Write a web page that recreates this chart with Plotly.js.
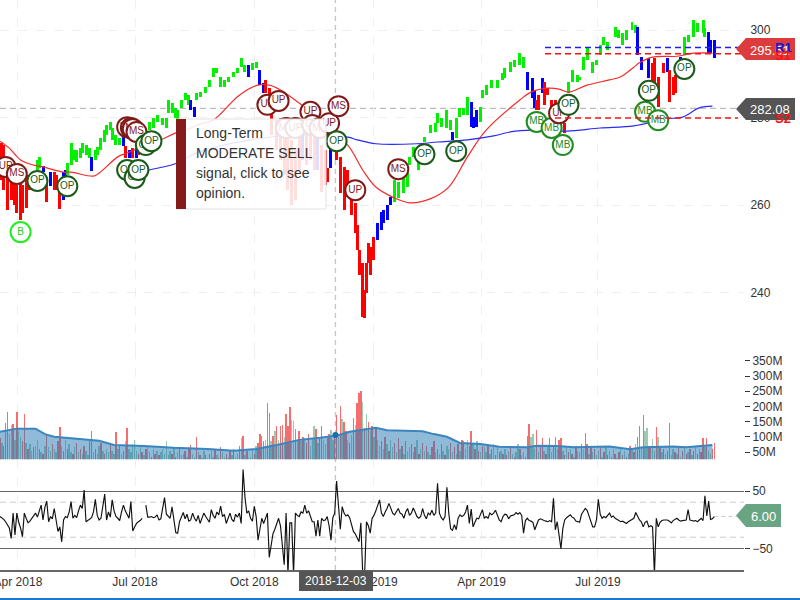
<!DOCTYPE html>
<html>
<head>
<meta charset="utf-8">
<script src="https://cdn.plot.ly/plotly-3.0.1.min.js"></script>
<style>html,body{margin:0;padding:0;background:#fff}#chart{width:800px;height:600px}</style>
</head>
<body>
<div id="chart"></div>
<script>
// x axis = trading-session number
var tickDays = [9.6, 72.2, 136, 199.5, 257.6, 319.8];
var tickLabels = ['Apr 2018', 'Jul 2018', 'Oct 2018', 'Jan 2019', 'Apr 2019', 'Jul 2019'];

var barDay = [1,2,4,6,8,9,11,12,14,16,18,20,21,23,25,27,29,30,32,34,35,36,38,40,41,43,44,46,48,49,51,52,54,56,57,59,60,62,64,66,67,69,71,73,74,76,78,80,82,84,87,89,90,92,94,95,97,99,101,102,104,105,107,110,112,114,116,118,120,122,125,127,129,131,133,135,137,139,141,142,144,145,148,150,152,154,156,158,160,162,164,166,168,170,172,174,175,177,180,182,184,186,188,190,191,192,194,195,196,197,198,200,202,204,205,207,209,211,213,216,218,219,221,224,225,227,230,233,234,236,239,241,242,244,246,248,250,252,253,255,257,258,260,263,266,269,270,273,275,278,280,282,285,286,287,288,290,291,293,295,297,299,302,303,304,306,309,310,312,314,317,319,321,323,325,329,331,333,335,338,340,341,343,347,349,350,352,355,357,358,360,361,364,366,368,371,373,376,377,379,380,382];
var barHigh = [274.2,273.7,269.1,266.9,265.7,264.6,265.7,264.6,266.9,265.7,266.9,270.3,271.0,268.9,266.2,267.5,267.5,266.9,264.6,267.5,268.0,269.6,274.2,272.6,272.6,273.0,274.2,273.7,273.0,271.0,272.6,273.3,275.3,277.1,278.3,279.0,277.6,276.0,275.3,276.0,273.5,272.6,273.0,273.0,273.7,274.9,277.1,279.0,279.9,280.6,279.9,279.9,284.0,283.3,282.2,281.7,284.0,285.6,285.1,284.0,282.4,285.6,285.8,287.0,288.6,291.3,291.3,289.3,288.6,289.3,290.4,291.3,293.6,292.0,292.0,292.5,292.7,290.9,287.9,288.6,286.7,282.9,279.4,279.9,278.3,277.1,274.9,272.6,277.1,277.6,277.1,278.3,279.4,277.1,273.7,272.6,268.4,274.2,274.9,271.0,268.7,268.0,262.3,260.5,255.4,249.7,246.7,240.6,246.7,251.3,250.4,252.7,255.9,258.4,258.9,260.0,261.8,265.7,265.3,266.2,268.7,271.0,273.3,270.3,273.7,275.5,278.3,278.7,281.0,279.9,281.7,279.4,276.7,279.9,282.2,282.2,284.7,283.5,280.1,281.7,282.4,286.3,287.4,288.6,288.6,290.2,291.3,292.7,293.1,294.7,293.8,290.4,289.0,286.3,284.0,285.1,289.0,288.1,286.7,284.0,284.0,280.1,278.7,284.0,288.1,290.9,289.7,289.3,293.8,295.9,292.7,293.1,296.6,298.4,297.3,300.7,300.0,299.3,300.0,301.8,301.1,300.7,293.8,293.6,292.5,293.6,289.3,292.5,293.6,290.9,289.3,289.7,293.8,298.4,298.9,302.3,301.6,302.3,300.5,299.5,297.7,297.7];
var barLow = [265.7,263.4,258.9,261.1,260.0,258.2,256.6,258.2,259.3,263.4,263.9,268.0,268.4,267.5,260.7,264.3,263.4,263.4,259.1,261.1,265.7,266.9,269.1,270.3,269.8,270.7,271.9,271.4,270.7,267.8,270.3,271.4,272.6,274.4,276.0,277.1,274.9,273.7,273.7,273.5,270.7,270.7,270.7,270.7,271.4,272.6,274.9,277.1,277.6,279.0,278.3,277.6,281.0,281.0,279.9,279.4,282.2,284.0,282.9,281.7,280.1,284.0,284.7,285.6,287.0,289.3,290.2,287.0,287.0,288.1,289.3,290.2,291.5,290.4,289.3,290.9,291.3,287.4,285.6,285.6,281.7,276.0,272.6,270.3,266.9,263.4,260.0,261.1,268.0,270.3,269.1,270.3,268.0,268.0,263.0,264.6,265.3,268.4,270.3,262.7,258.9,261.8,257.7,253.6,249.7,244.0,234.4,234.2,239.9,246.7,244.0,247.4,252.0,254.3,255.9,256.6,260.0,260.7,261.6,262.7,264.1,269.1,271.0,268.0,271.4,274.4,276.5,276.7,278.7,277.8,277.6,277.1,274.9,275.3,280.1,280.6,280.6,277.8,277.6,277.8,279.0,284.5,285.1,286.7,286.7,288.6,289.0,290.4,291.5,292.0,291.3,286.3,284.5,282.2,281.7,281.7,285.6,282.9,285.1,281.0,280.1,278.7,276.5,280.6,285.6,288.1,288.1,288.6,290.9,293.1,290.2,292.0,294.3,296.6,295.4,298.4,298.2,296.6,297.7,300.0,299.3,294.3,290.9,289.0,287.9,284.7,282.4,290.2,290.4,283.5,285.1,285.6,293.1,294.3,297.3,298.4,299.5,299.3,298.4,294.7,294.7,293.6];
// runs of bar state, in bar order: how many bars, and which state
var stateRunCount = [11,2,1,1,1,3,2,8,1,9,1,1,1,1,1,1,14,2,13,1,2,2,10,1,3,1,3,1,14,5,15,1,4,3,11,3,2,1,7,17,3,4,1,3,1,6,3];
var stateRunName = ['r','g','b','r','b','r','b','g','b','g','b','r','b','r','b','r','g','b','g','b','g','b','r','b','r','b','r','b','r','b','g','b','g','b','g','b','r','b','r','g','b','r','b','r','b','g','b'];

var maRedDay = [0,5,11,18,23,34,38,50,53,63,68,76,86,94,102,107,114,128,138,144,150,160,167,176,186,194,201,210,219,230,240,250,260,278,284,293,299,304,314,326,332,339,342,349,362,371,381];
var maRed = [274.6,273.0,270.3,269.1,268.7,267.5,267.5,266.6,267.3,271.0,271.9,273.3,274.9,276.5,277.6,278.5,279.4,285.1,287.4,287.4,286.3,283.3,281.0,277.1,273.7,268.0,264.1,261.8,260.5,261.4,264.1,271.0,277.1,284.0,285.8,286.7,286.5,285.8,287.4,288.6,289.3,291.5,292.5,293.8,294.0,294.7,294.7];
var maBlueDay = [75,80,95,105,134,160,186,191,201,223,234,250,264,273,285,303,321,339,357,365,374,381];
var maBlue = [267.3,268.0,269.6,271.9,274.9,276.0,275.5,274.9,274.0,274.0,274.4,274.9,275.8,276.7,277.1,276.9,277.6,278.1,279.7,280.1,282.2,282.6];

// signal badges, in time order
var sigDay = [3,9,11,20,36,68,70,71,73,68,72,74,78,81,143,149,153,158,166,167,171,176,181,180,190,213,227,244,287,295,301,299,304,345,347,352,366];
var sigPrice = [268.7,267.1,253.8,265.5,264.3,277.8,277.6,277.4,276.7,268.0,266.2,268.0,273.7,274.6,282.9,283.8,277.6,277.6,281.3,278.3,277.6,278.7,282.6,274.6,263.4,268.2,271.6,272.3,279.0,277.6,273.7,281.0,282.9,281.3,286.1,279.4,291.1];
var sigText = ['UP','MS','B','OP','OP','MS','MS','MS','MS','OP','OP','OP','OP','OP','UP','UP','MS','UP','UP','UP','MS','UP','MS','OP','UP','MS','OP','OP','MB','MB','MB','UP','OP','MB','OP','MB','OP'];

var volume = [95,80,70,146,183,110,139,142,90,183,
120,100,85,175,80,60,75,55,65,70,
90,60,50,45,70,110,65,55,75,60,
50,85,132,70,55,90,60,75,50,45,
65,80,50,60,45,70,55,40,85,118,
50,60,45,70,80,55,45,60,50,75,
55,45,116,60,70,45,55,85,129,60,
50,75,90,55,45,65,50,40,60,70,
50,35,60,45,55,40,50,60,45,85,
40,55,45,65,35,50,60,40,45,55,
35,60,73,45,35,100,50,40,30,55,
40,30,45,55,35,60,40,30,68,50,
35,45,30,55,40,60,35,45,70,96,
103,40,55,30,35,60,45,70,80,110,
103,85,90,213,179,85,103,118,135,90,
136,140,100,175,135,198,155,153,125,90,
118,85,100,95,80,110,70,95,135,125,
80,100,135,90,75,95,110,122,90,110,
172,100,202,160,150,120,90,80,105,162,
140,212,245,251,215,130,175,150,120,135,
100,130,90,70,85,60,100,75,55,90,
65,80,50,95,60,70,45,85,55,65,
75,50,65,90,45,60,80,55,70,50,
40,65,85,50,60,45,75,55,40,70,
60,80,50,65,45,75,55,90,85,60,
90,70,119,75,60,85,55,50,70,65,
50,70,45,60,75,40,65,50,55,45,
60,40,55,70,45,35,50,75,60,40,
50,35,103,142,98,110,60,123,50,70,
96,55,45,65,96,50,70,100,60,90,
95,55,40,65,50,60,45,35,70,55,
50,75,60,113,75,45,70,50,60,40,
55,70,35,50,65,40,55,35,60,45,
30,50,65,40,55,35,45,70,60,50,
75,100,136,60,172,118,128,70,68,93,
55,132,100,70,50,60,45,55,146,40,
60,50,45,70,35,55,65,45,50,60,
40,55,70,45,60,50,96,65,96,55,
45,60,80];
var volSide = 'rgrrrggrgr'+'ggrrgrggrg'+'grgrgrggrg'+'grrgrgrggr'+'grgrgrggrr'+'grggrgrggr'+'ggrgrgrgrg'+'ggggrgrgrg'+'grgrgrgggg'+'ggrgrgrggr'+'grrggrgrgg'+'rgrggrgrrg'+'grgrgrggrg'+'rgrgggrgrr'+'rrgrrgrgrg'+'rrgrrrggrg'+'rgrgrrgggr'+'grrggrrggr'+'rgrgrrgrgr'+'grrrgrgrgr'+'grggrgrgrg'+'grgrgrgrgg'+'rgrgrgrgrg'+'grrgrgrgrg'+'grgrgrgrrg'+'grrgrgrgrg'+'grgrgrgrgr'+'grgrgrggrg'+'grrrgggrgr'+'rgrgrgrrgr'+'rgrgrgrgrg'+'grgrrgrgrg'+'grgrgrgrgr'+'grgrgrgrgr'+'grrgrggrrg'+'grgrgrgrrg'+'grgrgrgrgr'+'grgrgrrgrg'+'grr';

var avgVolDay = [0,9,19,24,29,39,53,61,77,93,111,125,137,148,160,171,180,187,201,207,214,226,232,239,246,257,267,282,287,298,307,326,337,344,360,367,381];
var avgVol = [117,127,127,109,100,95,87,73,70,64,60,54,60,73,90,97,104,117,130,122,120,118,109,100,80,76,67,66,71,70,66,68,59,66,68,66,73];

var cci = [6,4,1,-3,-8,-14,-32,12,-26,12,
-4,-14,-29,12,3,-5,-2,2,6,12,
5,15,26,0,22,33,-3,6,2,20,
3,-20,-12,-38,0,6,4,14,32,3,
8,4,16,26,20,52,-3,-1,2,4,
14,36,8,0,3,22,45,0,14,5,
35,16,6,3,-1,14,26,16,8,3,
32,-19,-12,-6,-3,-1,3,null,26,5,
5,6,4,5,9,0,2,18,39,10,
6,3,23,-4,-22,-23,-3,5,13,2,
10,-2,0,12,3,-2,8,-6,2,12,
6,2,-4,18,8,3,14,9,24,6,
10,-6,4,12,1,-3,10,5,12,-6,
88,40,12,16,3,-2,24,6,-35,-12,
3,-6,4,12,-65,-40,-24,-16,-8,3,
-10,-45,-78,12,-95,-5,-5,-95,12,8,
6,14,12,26,12,16,8,-3,-3,-28,
0,-28,3,-1,0,6,-10,-35,4,12,
68,26,-16,23,12,7,9,4,-8,-20,
-24,-30,-38,-5,-95,-95,-3,-10,-23,3,
8,16,24,35,12,6,14,20,29,22,
12,9,16,20,12,10,3,14,20,8,
12,21,14,6,3,6,20,8,2,12,
9,17,8,12,64,12,4,0,6,57,
12,-15,-18,-8,-17,3,9,6,8,14,
26,-6,19,-12,-4,3,2,12,18,3,
6,3,12,9,12,17,10,0,-3,6,
10,9,2,7,8,9,13,10,13,8,
-23,-1,3,-1,-2,-4,-17,-8,0,2,
0,-1,-2,-3,-1,-3,38,-17,-3,-25,
-50,-15,0,4,6,9,5,3,-2,-3,
-4,10,16,20,17,8,-2,-12,-12,0,
36,10,3,6,4,9,12,5,7,3,
1,0,-3,-2,-4,-6,-3,-1,0,3,
13,5,0,-3,-12,-4,-2,-12,-10,-12,
-95,3,-12,-4,-1,0,0,0,-2,-5,
-1,1,3,0,-2,-1,-1,0,18,0,
-1,-2,-1,-3,0,3,-1,42,7,33,
1,2,6];

var volTicks = [50,100,150,200,250,300,350];
var volTickText = ['50M','100M','150M','200M','250M','300M','350M'];
var priceLast = 282.08, r1 = 296.0, s1 = 294.6, s2 = 279.9, cursorDay = 179.4, cursorVol = 106, cciLast = 6;
var tooltipLines = ['Long-Term', 'MODERATE SELL', 'signal, click to see', 'opinion.'];

var barState = [];
stateRunCount.forEach(function(n, i){ for (var k = 0; k < n; k++) barState.push(stateRunName[i]); });

var stateColor = {r:'#ff0000', g:'#00f000', b:'#0000ff'};
var sideColor = {r:'rgba(240,40,40,0.68)', g:'rgba(60,150,100,0.5)'};
var sigStyle = {
  OP:{line:'#1a5a1a', text:'#1a5a1a'},
  MS:{line:'#7f1a1a', text:'#7f1a1a'},
  UP:{line:'#7f1a1a', text:'#7f1a1a'},
  MB:{line:'#228b22', text:'#228b22'},
  B:{line:'#22ee22', text:'#22cc22'}
};
var FONT = '"Liberation Sans", Arial, sans-serif';

var traces = [];
// volume
var volDays = volume.map(function(_, i){ return i; });
traces.push({type:'bar', x:volDays, y:volume, xaxis:'x', yaxis:'y2', width:0.75,
  marker:{color:volume.map(function(_, i){ return sideColor[volSide.charAt(i)] || sideColor.g; }), line:{width:0}}, hoverinfo:'skip'});
traces.push({type:'scatter', mode:'lines', x:avgVolDay, y:avgVol, xaxis:'x', yaxis:'y2', fill:'tozeroy',
  fillcolor:'rgba(31,119,180,0.5)', line:{color:'#3a85c0', width:2}, hoverinfo:'skip'});
traces.push({type:'scatter', mode:'markers', x:[cursorDay], y:[cursorVol], xaxis:'x', yaxis:'y2',
  marker:{size:6, color:'#1a6db0'}, hoverinfo:'skip'});
// price
traces.push({type:'bar', x:barDay, base:barLow, y:barHigh.map(function(h, i){ return h - barLow[i]; }),
  xaxis:'x', yaxis:'y', width:1.6, marker:{color:barState.map(function(s){ return stateColor[s]; }), line:{width:0}}, hoverinfo:'skip'});
traces.push({type:'scatter', mode:'lines', x:maRedDay, y:maRed, xaxis:'x', yaxis:'y', line:{color:'#f52a2a', width:1.2, shape:'spline'}, hoverinfo:'skip'});
traces.push({type:'scatter', mode:'lines', x:maBlueDay, y:maBlue, xaxis:'x', yaxis:'y', line:{color:'#2a2af5', width:1.2, shape:'spline'}, hoverinfo:'skip'});
// cci
traces.push({type:'scatter', mode:'lines', x:cci.map(function(_, i){ return i; }), y:cci, xaxis:'x', yaxis:'y3',
  line:{color:'#111', width:1.15}, connectgaps:false, hoverinfo:'skip'});
// one trace per badge so that a later badge hides the text of an earlier one
sigDay.forEach(function(d, i){
  var st = sigStyle[sigText[i]];
  traces.push({type:'scatter', mode:'markers+text', x:[d], y:[sigPrice[i]], text:[sigText[i]], textposition:'middle center',
    xaxis:'x', yaxis:'y', textfont:{family:FONT, size:10, color:st.text},
    marker:{size:20, color:'#fff', line:{color:st.line, width:2}}, hoverinfo:'skip', cliponaxis:false});
});

function px(v){ return v / 800; }
function py(v){ return (570 - v) / 570; }
function tag(left, mid, top, bot, right, color){
  var p = 'M' + px(left) + ',' + py(mid) + ' L' + px(left + 10) + ',' + py(top) + ' L' + px(right) + ',' + py(top) +
          ' L' + px(right) + ',' + py(bot) + ' L' + px(left + 10) + ',' + py(bot) + ' Z';
  return {type:'path', xref:'paper', yref:'paper', path:p, fillcolor:color, line:{width:0}, layer:'above'};
}
var shapes = [
  {type:'line', xref:'x', yref:'paper', x0:cursorDay, x1:cursorDay, y0:0, y1:1, line:{color:'#c4c4c4', width:1.3, dash:'5px,4px'}, layer:'below'},
  {type:'line', xref:'paper', yref:'y', x0:0, x1:px(738), y0:priceLast, y1:priceLast, line:{color:'#bbb', width:1.3, dash:'6px,4px'}, layer:'below'},
  {type:'line', xref:'x', yref:'y3', x0:0, x1:398, y0:31, y1:31, line:{color:'#ccc', width:1, dash:'6px,4px'}, layer:'below'},
  {type:'line', xref:'x', yref:'y3', x0:0, x1:398, y0:-30, y1:-30, line:{color:'#ccc', width:1, dash:'6px,4px'}, layer:'below'},
  {type:'line', xref:'x', yref:'y3', x0:382, x1:394, y0:cciLast, y1:cciLast, line:{color:'#ccc', width:1, dash:'4px,3px'}, layer:'below'},
  {type:'rect', xref:'paper', yref:'paper', x0:px(176.5), x1:px(326), y0:py(119), y1:py(209), fillcolor:'rgba(255,255,255,0.87)', line:{color:'#e2e2e2', width:1}, layer:'above'},
  {type:'rect', xref:'paper', yref:'paper', x0:px(176), x1:px(186), y0:py(119), y1:py(209), fillcolor:'#851a1a', line:{width:0}, layer:'above'},
  {type:'line', xref:'paper', yref:'y', x0:px(545), x1:px(748), y0:r1, y1:r1, line:{color:'#2020f0', width:1.5, dash:'6px,4px'}, layer:'above'},
  {type:'line', xref:'paper', yref:'y', x0:px(545), x1:px(748), y0:s1, y1:s1, line:{color:'#ff1010', width:1.5, dash:'6px,4px'}, layer:'above'},
  {type:'line', xref:'paper', yref:'y', x0:px(555), x1:px(738), y0:s2, y1:s2, line:{color:'#ff1010', width:1.5, dash:'6px,4px'}, layer:'above'},
  tag(736, 49, 38, 60, 795, '#dc3c3c'),
  tag(736, 109, 98, 120, 795, '#555555'),
  tag(736, 515.5, 504, 527, 781, '#6aa583'),
  {type:'rect', xref:'paper', yref:'paper', x0:px(299), x1:px(373), y0:py(570.5), y1:py(591), fillcolor:'#555', line:{width:0}, layer:'above'},
  {type:'rect', xref:'paper', yref:'paper', x0:0, x1:1, y0:py(598), y1:py(600), fillcolor:'#1e78cc', line:{width:0}, layer:'above'}
];
function note(text, x, y, size, color, anchor, bold){
  return {xref:'paper', yref:'paper', x:px(x), y:py(y), text:bold ? '<b>' + text + '</b>' : text, showarrow:false,
    xanchor:anchor || 'center', yanchor:'middle', align:'left', borderpad:0,
    font:{family:FONT, size:size, color:color}};
}
var annotations = [
  note('295.51', 770, 50, 13, '#fff'),
  note('R1', 783, 47, 13, '#1515e0', 'center', true),
  note('S1', 783, 56, 13, '#ff1010', 'center', true),
  note('S2', 783, 119, 13, '#ff1010', 'center', true),
  note(String(priceLast), 770, 109, 13, '#fff'),
  note(cciLast.toFixed(2), 763, 516, 13, '#fff'),
  note('2018-12-03', 336, 581, 12, '#fff')
];
tooltipLines.forEach(function(t, i){
  annotations.push(note(t, 195, 133 + i * 20, 14, '#333', 'left'));
});

var axFont = {family:FONT, size:12, color:'#333'};
var layout = {
  width:800, height:600, margin:{l:0, r:0, t:0, b:30, pad:0},
  paper_bgcolor:'#fff', plot_bgcolor:'#fff', showlegend:false, barmode:'overlay', bargap:0,
  font:{family:FONT},
  xaxis:{domain:[0, 0.93], range:[0, 397.9], anchor:'y3', tickmode:'array', tickvals:tickDays, ticktext:tickLabels,
    ticklabeloverflow:'allow', tickfont:axFont, showgrid:true, gridcolor:'#efefef', griddash:'dash', gridwidth:1, zeroline:false,
    showline:true, linecolor:'#666', linewidth:2, ticks:'', tickangle:0},
  yaxis:{domain:[0.386, 1], range:[226.86, 306.86], anchor:'x', side:'right', tickmode:'array', tickvals:[240,260,280,300],
    tickfont:axFont, showgrid:true, gridcolor:'#efefef', griddash:'dash', zeroline:false, ticks:'outside', ticklen:3, tickcolor:'rgba(0,0,0,0)'},
  yaxis2:{domain:[0.1942, 0.386], range:[26, 386], anchor:'x', side:'right', tickmode:'array', tickvals:volTicks, ticktext:volTickText,
    tickfont:axFont, showgrid:false, zeroline:false, ticks:'outside', ticklen:5, tickcolor:'#333'},
  yaxis3:{domain:[0, 0.1942], range:[-87.1, 105.7], anchor:'x', side:'right', tickmode:'array', tickvals:[-50,50],
    tickfont:axFont, showgrid:true, gridcolor:'#666', gridwidth:1, zeroline:false, ticks:'outside', ticklen:5, tickcolor:'#333'},
  shapes:shapes, annotations:annotations
};
Plotly.newPlot('chart', traces, layout, {displayModeBar:false, staticPlot:true});
</script>
</body>
</html>
